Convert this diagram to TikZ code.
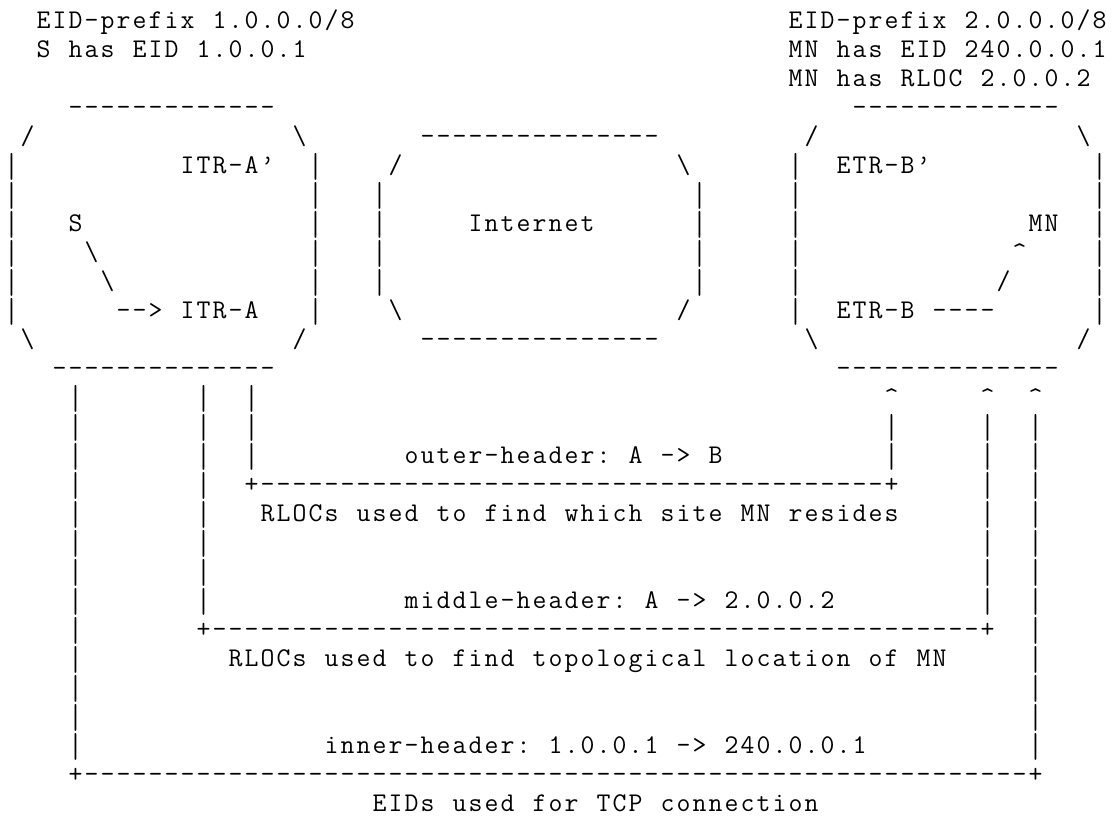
\documentclass[tikz,border=0pt]{standalone}
\usepackage{fontspec}
\usepackage{graphicx}
\newfontfamily\asciifont{Latin Modern Mono}
\newlength\cw
\setlength\cw{16pt}
\ExplSyntaxOn
\NewDocumentCommand\chars{m}{\tl_map_inline:nn {#1}{\makebox[\cw][c]{##1}}}
\NewDocumentCommand\seg{mm}{\makebox[0pt][l]{\hspace*{\dimexpr #1\cw\relax}\chars{#2}}}
\NewDocumentCommand\dashes{mm}{\makebox[0pt][l]{\hspace*{\dimexpr #1\cw\relax}\prg_replicate:nn{#2}{\makebox[\cw][c]{-}}}}
\ExplSyntaxOff
\newcommand\bs{\textbackslash}
\newcommand\up{\textasciicircum}
\newcommand\vb{\raisebox{-3.6pt}{\scalebox{1}[1.286]{|}}}
\tikzset{asciirow/.style={anchor=base west,inner sep=0pt,outer sep=0pt,font=\asciifont\fontsize{27}{29}\selectfont}}
\begin{document}
\begin{tikzpicture}[x=1pt,y=-1pt]
\fill[white] (0,0) rectangle (1115,824);
\useasboundingbox (0,0) rectangle (1115,824);
\node[asciirow] (r0) at (3,28.5) {\seg{2}{EID-prefix~1.0.0.0/8}\seg{49}{EID-prefix~2.0.0.0/8}};
\node[asciirow] (r1) at (3,57.5) {\seg{2}{S~has~EID~1.0.0.1}\seg{49}{MN~has~EID~240.0.0.1}};
\node[asciirow] (r2) at (3,86.5) {\seg{49}{MN~has~RLOC~2.0.0.2}};
\node[asciirow] (r3) at (3,115.5) {\dashes{4}{13}\dashes{53}{13}};
\node[asciirow] (r4) at (3,144.5) {\seg{1}{/}\seg{18}{\bs}\dashes{26}{15}\seg{50}{/}\seg{67}{\bs}};
\node[asciirow] (r5) at (3,173.5) {\seg{0}{\vb}\seg{11}{ITR-A’}\seg{19}{\vb}\seg{24}{/}\seg{42}{\bs}\seg{49}{\vb}\seg{52}{ETR-B’}\seg{68}{\vb}};
\node[asciirow] (r6) at (3,202.5) {\seg{0}{\vb}\seg{19}{\vb}\seg{23}{\vb}\seg{43}{\vb}\seg{49}{\vb}\seg{68}{\vb}};
\node[asciirow] (r7) at (3,231.5) {\seg{0}{\vb}\seg{4}{S}\seg{19}{\vb}\seg{23}{\vb}\seg{29}{Internet}\seg{43}{\vb}\seg{49}{\vb}\seg{64}{MN}\seg{68}{\vb}};
\node[asciirow] (r8) at (3,260.5) {\seg{0}{\vb}\seg{5}{\bs}\seg{19}{\vb}\seg{23}{\vb}\seg{43}{\vb}\seg{49}{\vb}\seg{63}{\up}\seg{68}{\vb}};
\node[asciirow] (r9) at (3,289.5) {\seg{0}{\vb}\seg{6}{\bs}\seg{19}{\vb}\seg{23}{\vb}\seg{43}{\vb}\seg{49}{\vb}\seg{62}{/}\seg{68}{\vb}};
\node[asciirow] (r10) at (3,318.5) {\seg{0}{\vb}\seg{7}{-->~ITR-A}\seg{19}{\vb}\seg{24}{\bs}\seg{42}{/}\seg{49}{\vb}\seg{52}{ETR-B~----}\seg{68}{\vb}};
\node[asciirow] (r11) at (3,347.5) {\seg{1}{\bs}\seg{18}{/}\dashes{26}{15}\seg{50}{\bs}\seg{67}{/}};
\node[asciirow] (r12) at (3,376.5) {\dashes{3}{14}\dashes{52}{14}};
\node[asciirow] (r13) at (3,405.5) {\seg{4}{\vb}\seg{12}{\vb}\seg{15}{\vb}\seg{55}{\up}\seg{61}{\up}\seg{64}{\up}};
\node[asciirow] (r14) at (3,434.5) {\seg{4}{\vb}\seg{12}{\vb}\seg{15}{\vb}\seg{55}{\vb}\seg{61}{\vb}\seg{64}{\vb}};
\node[asciirow] (r15) at (3,463.5) {\seg{4}{\vb}\seg{12}{\vb}\seg{15}{\vb}\seg{25}{outer-header:~A~->~B}\seg{55}{\vb}\seg{61}{\vb}\seg{64}{\vb}};
\node[asciirow] (r16) at (3,492.5) {\seg{4}{\vb}\seg{12}{\vb}\seg{15}{+}\dashes{16}{39}\seg{55}{+}\seg{61}{\vb}\seg{64}{\vb}};
\node[asciirow] (r17) at (3,521.5) {\seg{4}{\vb}\seg{12}{\vb}\seg{16}{RLOCs~used~to~find~which~site~MN~resides}\seg{61}{\vb}\seg{64}{\vb}};
\node[asciirow] (r18) at (3,550.5) {\seg{4}{\vb}\seg{12}{\vb}\seg{61}{\vb}\seg{64}{\vb}};
\node[asciirow] (r19) at (3,579.5) {\seg{4}{\vb}\seg{12}{\vb}\seg{61}{\vb}\seg{64}{\vb}};
\node[asciirow] (r20) at (3,608.5) {\seg{4}{\vb}\seg{12}{\vb}\seg{25}{middle-header:~A~->~2.0.0.2}\seg{61}{\vb}\seg{64}{\vb}};
\node[asciirow] (r21) at (3,637.5) {\seg{4}{\vb}\seg{12}{+}\dashes{13}{48}\seg{61}{+}\seg{64}{\vb}};
\node[asciirow] (r22) at (3,666.5) {\seg{4}{\vb}\seg{14}{RLOCs~used~to~find~topological~location~of~MN}\seg{64}{\vb}};
\node[asciirow] (r23) at (3,695.5) {\seg{4}{\vb}\seg{64}{\vb}};
\node[asciirow] (r24) at (3,724.5) {\seg{4}{\vb}\seg{64}{\vb}};
\node[asciirow] (r25) at (3,753.5) {\seg{4}{\vb}\seg{20}{inner-header:~1.0.0.1~->~240.0.0.1}\seg{64}{\vb}};
\node[asciirow] (r26) at (3,782.5) {\seg{4}{+}\dashes{5}{59}\seg{64}{+}};
\node[asciirow] (r27) at (3,811.5) {\seg{23}{EIDs~used~for~TCP~connection}};
\end{tikzpicture}
\end{document}
